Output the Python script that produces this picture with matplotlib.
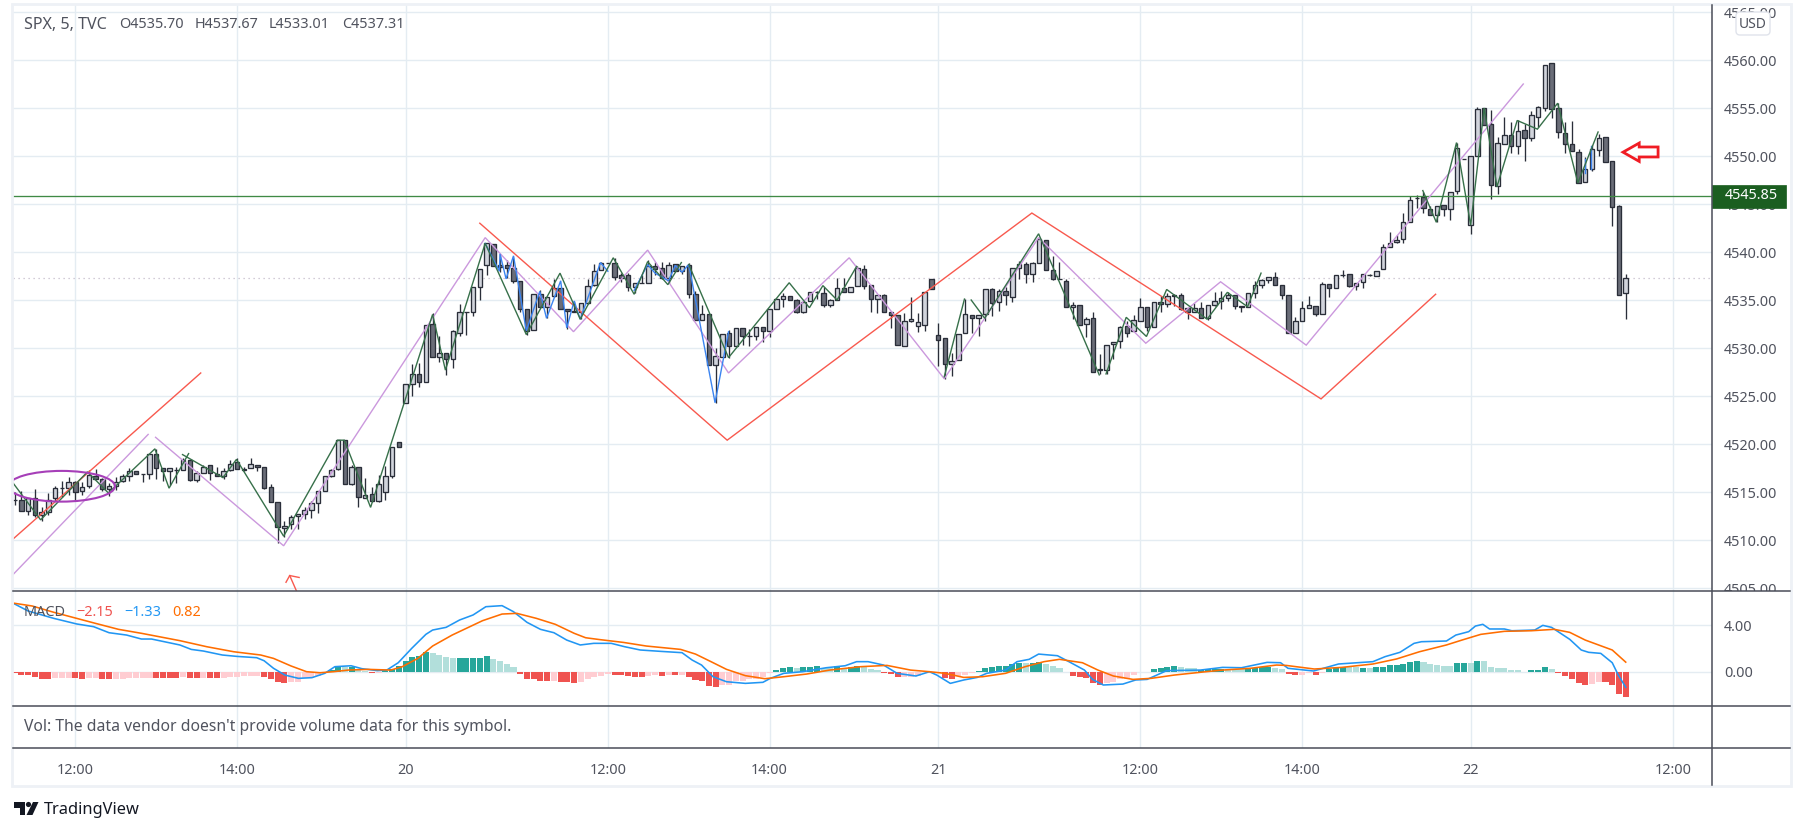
import matplotlib
matplotlib.use("Agg")
import matplotlib.pyplot as plt
from matplotlib.patches import Ellipse, Polygon, Circle, FancyBboxPatch, Rectangle
from matplotlib.transforms import Bbox, blended_transform_factory

plt.rcParams['font.family'] = ['Noto Sans', 'DejaVu Sans']

# ---------------- data ----------------
opens = [
4514.2,4514.2,4513.0,4514.4,4512.6,4512.9,4514.4,4515.4,4515.4,4516.0,
4515.1,4515.6,4516.7,4516.4,4515.3,4515.6,4516.1,4516.7,4517.2,4516.9,
4516.9,4519.0,4517.5,4517.2,4517.3,4517.3,4518.3,4516.3,4517.0,4517.8,
4516.9,4516.7,4517.3,4518.1,4517.4,4517.5,4517.8,4517.6,4515.5,4514.0,
4511.3,4511.7,4512.5,4512.7,4513.1,4513.9,4515.1,4516.7,4517.4,4520.4,
4515.8,4517.6,4514.4,4514.8,4514.1,4515.0,4516.7,4520.2,4524.3,4526.25,
4527.3,4526.5,4532.5,4529.1,4529.5,4528.9,4531.6,4533.7,4533.8,4536.4,
4538.6,4540.8,4538.6,4538.6,4538.3,4537.0,4534.1,4531.9,4535.6,4534.3,
4535.4,4536.3,4534.1,4533.9,4533.8,4534.7,4536.6,4538.1,4538.9,4538.9,
4537.6,4537.6,4536.4,4536.8,4536.8,4538.5,4538.3,4537.3,4538.7,4538.0,
4538.6,4535.6,4532.9,4533.5,4528.2,4529.1,4531.6,4530.2,4532.1,4531.3,
4531.3,4532.2,4531.8,4534.1,4535.1,4535.4,4535.0,4533.7,4534.9,4535.8,
4535.7,4534.5,4535.0,4536.2,4535.8,4536.5,4538.2,4536.6,4535.1,4535.5,
4533.7,4533.4,4530.2,4532.8,4532.3,4532.4,4537.2,4531.4,4531.0,4528.3,
4528.8,4531.6,4533.4,4533.1,4533.5,4536.1,4534.8,4535.9,4535.3,4538.3,
4538.8,4537.7,4538.9,4541.3,4538.1,4537.2,4537.0,4534.3,4534.5,4532.5,
4533.1,4527.8,4527.7,4530.4,4530.7,4532.3,4531.8,4532.8,4534.3,4532.2,
4534.8,4534.6,4535.5,4535.5,4534.2,4533.8,4534.2,4533.1,4534.5,4534.9,
4535.2,4535.5,4534.4,4534.3,4535.7,4536.6,4537.1,4537.4,4536.6,4535.5,
4531.6,4532.8,4534.2,4534.4,4533.5,4536.7,4536.3,4537.6,4537.7,4536.5,
4536.9,4537.6,4537.5,4538.2,4540.5,4541.0,4541.4,4543.1,4545.6,4545.7,
4544.5,4543.9,4544.9,4544.5,4546.4,4549.7,4542.8,4550.0,4555.0,4553.3,
4546.9,4551.2,4552.2,4551.0,4552.7,4551.9,4554.1,4555.0,4559.7,4555.0,
4552.4,4551.3,4550.4,4547.3,4548.6,4550.6,4552.0,4549.5,4544.8,4535.7]
highs = [
4515.0,4515.1,4514.4,4515.3,4513.4,4514.9,4515.6,4516.1,4516.6,4516.1,
4516.0,4517.3,4517.4,4516.5,4515.9,4516.6,4516.9,4517.5,4517.2,4516.9,
4519.0,4519.5,4517.5,4517.5,4517.6,4518.5,4518.3,4517.2,4517.8,4517.8,
4517.6,4517.5,4518.3,4518.5,4517.6,4518.5,4517.8,4517.6,4515.8,4514.0,
4512.0,4512.6,4512.7,4513.4,4514.1,4515.1,4516.7,4517.4,4520.4,4520.4,
4517.8,4517.6,4516.5,4515.5,4516.8,4517.7,4519.7,4520.2,4526.2,4528.3,
4528.4,4532.4,4533.6,4531.2,4529.5,4531.9,4534.6,4533.7,4536.4,4538.2,
4540.9,4540.8,4539.8,4539.2,4539.5,4537.0,4534.1,4535.6,4536.0,4535.3,
4537.2,4536.3,4534.1,4534.9,4534.7,4537.2,4538.8,4539.0,4538.9,4539.4,
4537.8,4537.8,4536.8,4537.6,4539.2,4539.0,4539.0,4539.0,4538.7,4538.5,
4538.9,4535.9,4534.5,4533.5,4530.0,4531.5,4531.9,4532.1,4532.1,4532.0,
4532.2,4532.2,4534.1,4535.2,4535.7,4535.4,4535.1,4534.8,4535.8,4535.9,
4536.4,4535.1,4537.3,4537.3,4536.4,4538.5,4538.6,4536.6,4535.5,4535.6,
4533.7,4533.4,4533.6,4535.3,4533.6,4535.8,4537.2,4532.6,4531.0,4529.5,
4531.5,4535.1,4533.4,4533.4,4536.1,4536.2,4536.1,4536.4,4538.3,4539.1,
4539.0,4539.0,4541.4,4541.3,4539.6,4539.0,4537.2,4534.8,4534.5,4533.2,
4533.8,4529.4,4530.3,4530.6,4532.3,4532.8,4533.4,4535.2,4534.3,4534.8,
4535.4,4535.7,4535.6,4535.7,4534.2,4534.7,4534.8,4534.5,4535.8,4535.9,
4535.8,4535.5,4534.4,4535.7,4537.0,4537.2,4537.4,4537.9,4536.6,4535.5,
4533.2,4534.9,4535.4,4534.4,4536.9,4536.7,4537.6,4538.1,4537.7,4536.8,
4537.7,4537.7,4538.0,4540.8,4542.1,4541.8,4544.1,4545.8,4545.9,4546.3,
4544.8,4544.8,4544.9,4546.2,4551.4,4549.7,4550.0,4555.1,4555.0,4554.8,
4552.0,4554.1,4553.5,4553.7,4553.3,4554.7,4555.2,4559.5,4559.7,4555.5,
4553.5,4553.6,4550.7,4549.9,4551.1,4552.3,4552.0,4549.5,4544.9,4537.67]
lows = [
4513.6,4513.0,4512.6,4512.4,4512.0,4512.6,4514.1,4514.5,4514.7,4514.1,
4514.7,4515.4,4516.4,4515.1,4514.6,4515.2,4516.0,4516.2,4516.9,4516.0,
4516.4,4516.4,4516.2,4515.7,4515.9,4517.3,4516.1,4516.0,4517.0,4516.3,
4516.7,4516.4,4517.2,4517.4,4517.2,4517.5,4517.2,4515.3,4514.0,4509.7,
4510.3,4511.1,4511.2,4512.2,4512.3,4512.8,4515.1,4516.6,4517.3,4515.8,
4515.7,4513.4,4514.4,4514.0,4514.0,4514.2,4516.5,4519.7,4524.3,4525.0,
4525.9,4526.5,4529.1,4528.5,4527.2,4527.9,4531.3,4531.4,4533.3,4535.0,
4537.6,4538.5,4537.9,4537.3,4536.8,4533.8,4531.4,4531.9,4534.3,4533.1,
4535.3,4534.1,4532.0,4533.8,4533.0,4534.6,4536.5,4538.1,4538.9,4537.1,
4536.9,4535.9,4535.7,4536.8,4536.8,4537.6,4537.2,4536.8,4538.0,4537.7,
4535.2,4532.9,4532.9,4528.2,4524.3,4529.1,4529.0,4530.2,4530.3,4530.2,
4530.8,4530.6,4531.1,4534.1,4534.3,4535.0,4533.6,4533.6,4534.9,4535.1,
4534.3,4534.3,4535.0,4535.8,4535.8,4536.5,4536.1,4533.8,4533.6,4533.7,
4532.1,4530.3,4530.2,4532.7,4531.7,4531.8,4536.1,4528.1,4526.8,4527.1,
4528.8,4531.6,4531.6,4531.2,4532.8,4533.3,4533.9,4534.5,4534.8,4537.2,
4536.8,4536.9,4538.9,4538.1,4537.1,4537.2,4534.3,4533.0,4532.4,4531.1,
4527.5,4527.3,4527.3,4528.9,4530.0,4531.1,4531.8,4532.8,4531.8,4532.2,
4533.7,4534.3,4534.4,4534.0,4533.0,4533.7,4533.1,4532.9,4534.4,4534.1,
4534.9,4534.1,4533.8,4534.3,4535.2,4536.2,4536.8,4536.6,4535.1,4531.6,
4531.6,4532.8,4534.2,4533.3,4533.5,4535.3,4536.3,4537.4,4536.4,4536.0,
4536.2,4537.5,4537.5,4538.2,4540.5,4540.9,4540.9,4543.1,4544.6,4544.1,
4543.9,4543.1,4543.7,4543.3,4546.0,4549.7,4541.9,4550.0,4553.2,4545.5,
4546.0,4551.2,4550.3,4550.2,4549.5,4551.6,4553.0,4554.7,4554.0,4551.9,
4550.3,4550.5,4547.2,4547.3,4548.4,4550.0,4549.4,4542.7,4535.5,4533.01]
closes = [
4514.2,4513.0,4514.4,4512.6,4512.9,4514.2,4515.4,4515.4,4516.0,4515.0,
4515.5,4516.8,4516.4,4515.3,4515.6,4516.0,4516.7,4517.2,4516.9,4516.9,
4519.0,4517.5,4517.2,4517.5,4517.3,4518.3,4516.3,4517.0,4517.6,4517.0,
4516.7,4517.2,4517.9,4517.4,4517.3,4517.9,4517.6,4515.4,4514.0,4511.4,
4511.5,4512.4,4512.7,4513.1,4513.9,4515.1,4516.7,4517.3,4520.4,4515.8,
4517.6,4514.5,4514.7,4514.1,4515.8,4516.7,4519.7,4519.7,4526.2,4527.3,
4526.5,4532.4,4529.1,4529.5,4528.9,4531.8,4533.7,4533.7,4536.4,4538.2,
4540.9,4538.5,4538.4,4538.3,4537.0,4534.1,4531.8,4535.6,4534.3,4535.3,
4536.2,4534.1,4533.9,4533.8,4534.7,4536.5,4538.0,4538.9,4538.9,4537.4,
4537.3,4536.4,4536.8,4536.8,4538.5,4538.2,4537.3,4538.6,4538.0,4538.5,
4535.6,4532.9,4533.5,4528.2,4529.2,4531.5,4530.2,4532.1,4531.2,4531.3,
4532.2,4531.8,4534.1,4535.1,4535.4,4535.0,4533.7,4534.8,4535.8,4535.8,
4534.5,4535.0,4536.2,4535.8,4536.4,4538.3,4536.5,4535.1,4535.5,4533.7,
4533.4,4530.3,4532.8,4533.0,4532.7,4535.8,4536.1,4530.8,4528.3,4528.6,
4531.5,4533.5,4533.1,4533.4,4536.1,4534.7,4535.9,4535.5,4538.3,4538.8,
4537.7,4538.9,4541.4,4538.1,4537.2,4537.2,4534.3,4534.5,4532.4,4533.0,
4527.5,4527.7,4530.3,4530.6,4532.2,4531.6,4532.9,4534.3,4532.2,4534.8,
4534.6,4535.4,4535.4,4534.1,4533.7,4534.2,4533.1,4534.5,4534.9,4535.2,
4535.5,4534.4,4534.3,4535.7,4536.6,4537.1,4537.4,4536.6,4535.5,4531.6,
4532.8,4534.2,4534.5,4533.5,4536.7,4536.2,4537.6,4537.6,4536.5,4536.8,
4537.7,4537.6,4538.0,4540.5,4540.9,4541.2,4543.1,4545.4,4545.6,4544.6,
4543.9,4544.8,4544.5,4546.2,4550.8,4549.7,4550.0,4554.9,4553.2,4547.0,
4551.4,4552.2,4551.0,4552.6,4551.9,4554.3,4555.1,4559.5,4554.9,4552.5,
4551.3,4550.5,4547.2,4548.6,4550.7,4551.9,4549.4,4544.7,4535.5,4537.31]

# MACD histogram, one value per bar
hist_values = [
-.09,-.26,-.29,-.46,-.63,-.63,-.54,-.54,-.54,-.57,-.63,-.57,-.54,-.63,-.63,-.62,-.60,-.57,-.54,-.54,
-.52,-.50,-.50,-.50,-.54,-.48,-.54,-.54,-.50,-.54,-.54,-.50,-.46,-.46,-.40,-.40,-.37,-.48,-.63,-.86,
-.94,-.88,-.88,-.57,-.54,-.37,-.14,.14,.48,.37,.43,.14,.06,-.11,-.09,.09,.26,.49,.91,1.26,
1.37,1.69,1.60,1.43,1.26,1.17,1.17,1.17,1.17,1.17,1.34,1.09,.94,.66,.37,-.17,-.66,-.66,-.80,-.80,
-.80,-.88,-.88,-.94,-.86,-.66,-.49,-.34,-.20,-.29,-.29,-.37,-.46,-.46,-.37,-.29,-.37,-.29,-.29,-.26,
-.46,-.71,-.80,-1.23,-1.31,-1.14,-1.14,-.80,-.80,-.63,-.63,-.46,-.11,.14,.31,.40,.31,.40,.40,.49,
.31,.31,.49,.31,.40,.49,.46,.23,.14,-.11,-.20,-.46,-.46,-.46,-.37,-.06,-.06,-.10,-.54,-.63,
-.37,-.26,-.09,.06,.31,.40,.49,.49,.66,.74,.74,.74,.83,.66,.49,.31,-.06,-.37,-.46,-.54,
-.97,-1.14,-.97,-.88,-.60,-.60,-.31,-.03,-.03,.23,.31,.40,.49,.40,.31,.31,.14,.20,.20,.20,
.20,.20,.20,.31,.31,.37,.40,.31,.23,-.20,-.29,-.29,-.14,-.29,-.09,.23,.31,.37,.37,.37,
.31,.31,.37,.43,.57,.57,.69,.83,.91,.83,.66,.57,.49,.49,.74,.74,.74,.91,.91,.37,
.31,.31,.14,.14,-.03,.14,.14,.40,.23,-.11,-.37,-.63,-.97,-1.14,-1.06,-.89,-.89,-1.14,-1.91,-2.15]
# 1 = saturated bar, 0 = pale bar
hist_strong = [
1,1,1,1,1,1,0,0,0,1,1,0,0,1,1,0,0,0,0,0,
0,1,1,1,1,0,1,1,0,1,1,0,0,0,0,0,0,1,1,1,
1,0,0,0,0,0,0,1,1,0,1,0,0,1,0,1,1,1,1,1,
1,1,0,0,0,0,1,1,1,1,1,0,0,0,0,1,1,1,1,1,
0,1,1,1,0,0,0,0,0,1,1,1,1,1,0,0,1,0,1,0,
1,1,1,1,1,0,0,0,0,0,0,0,0,1,1,1,0,1,1,1,
0,0,1,0,1,1,0,0,0,1,1,1,0,0,0,0,0,1,1,1,
0,0,0,1,1,1,1,1,1,1,0,1,1,0,0,0,1,1,1,1,
1,1,0,0,0,0,0,0,0,1,1,1,1,0,0,0,1,1,1,1,
0,0,0,1,1,1,1,0,0,1,1,0,0,1,0,1,1,1,0,0,
1,0,1,1,1,1,1,1,1,0,0,0,0,0,1,1,0,1,0,0,
0,0,0,0,1,1,1,1,0,1,1,1,1,1,0,0,1,1,1,1]

macd_x = [0,2,5.8,9.2,11.7,14,16.6,18.8,20.3,24.5,26.2,28,30.8,33,35.9,37,38.4,40.1,42.1,44.1,46,47.5,49.9,51.5,53.8,55.2,56.9,58.9,61,62,64,66,68,69.9,72.3,74,76,78,80,81.9,83.9,85.9,88.5,90.5,92.8,95.9,99,100.5,101.9,103.6,105.6,108.4,111,112.1,114.1,116.9,120.4,123.2,124.9,126.6,128.9,130.9,133.7,135.7,136.8,138.8,140.8,142.8,144.2,147,148.7,150.5,151.9,154.7,156.4,158.7,159.9,161.5,164.4,166.3,168,170.9,175.9,179.2,182,185.8,187.8,188.9,192.7,196.4,201.5,203.3,205.5,207.6,208.7,212.4,213.8,215.7,216.7,217.8,218.8,221,222.1,225.5,226.7,228,230.7,232.4,233.5,235.3,237,237.9,239]
macd_y = [5.8,5.2,4.57,4.09,3.86,3.34,3.14,2.8,2.8,2.29,1.91,1.77,1.43,1.31,1.2,.94,.29,-.29,-.57,-.51,-.14,.43,.51,.26,.09,.14,.77,2,3.2,3.57,3.8,4.43,4.86,5.57,5.66,5.14,4.23,3.63,3.34,2.71,2.29,2.43,2.43,2.14,1.86,1.74,1.63,1,.57,-.43,-.86,-1,-.91,-.57,-.14,0,.34,.51,.86,.86,.57,-.14,-.37,0,-.29,-1,-.71,-.49,-.14,.14,.86,1.06,1.51,1.37,.86,.14,-.66,-1.14,-1.06,-.71,-.66,.09,.14,.37,.34,.8,.77,.29,.06,.66,.86,1.29,1.66,2.43,2.57,2.63,3.14,3.43,3.91,4.06,3.66,3.66,3.51,3.57,3.97,3.8,2.77,1.86,1.66,1.57,.77,-.29,-1.33]
signal_x = [0,2.6,5.8,9.2,12,15.4,18.8,24.5,28.5,32.5,36.5,38.4,41,43.3,45.3,47.3,49.5,52.4,55.8,57.5,59.8,62,64.9,69.4,72.3,74.5,77.4,80.2,83,84.7,86.8,90.3,93.7,98.8,101,103.3,105.6,108.4,111.3,114.1,117.5,120.9,125.5,129.4,132.9,135.7,138,140.8,143.6,147,149.9,152.7,155,158.4,160.7,163,165.9,168.6,172,175.9,179.2,183.3,187.2,188.6,192.8,196.9,201.5,205,208.4,212.4,214.7,217.5,221,225,228.4,230.7,233,237,239]
signal_y = [5.86,5.63,5.09,4.57,4.14,3.63,3.29,2.66,2.14,1.71,1.43,1.14,.49,0,-.09,0,.14,.2,.14,.43,1.14,2.2,3.14,4.37,4.94,5,4.57,4.06,3.29,2.91,2.75,2.51,2.2,1.91,1.51,.86,.2,-.34,-.6,-.43,-.2,.14,.43,.54,.14,0,-.14,-.49,-.43,-.14,.43,.86,1.06,.77,.14,-.37,-.66,-.57,-.29,-.05,.14,.29,.57,.54,.23,.37,.66,1.09,1.71,2.29,2.71,3.2,3.46,3.51,3.63,3.37,2.71,1.86,.82]

# drawn overlays: (bar position, price) vertices
red_lines = [
    [(-0.25,4510.1),(27.6,4527.4)],
    [(69,4543.0),(105.7,4520.4),(150.9,4544.06),(193.8,4524.7),(210.8,4535.6)],
]
purple_lines = [
    [(-0.25,4506.4),(19.8,4521.0)],
    [(20.9,4520.7),(39.9,4509.4),(69.8,4541.5),(82.9,4531.7),(93.9,4540.2),(105.9,4527.4),
     (123.8,4539.4),(137.9,4526.8),(151.9,4541.5),(167.8,4530.5),(178.9,4536.9),(191.6,4530.3),(223.8,4557.5)],
]
green_lines = [
    [(-0.2,4515.9),(3.85,4512.1),(10.8,4517.1),(13.9,4514.9),(20.8,4519.5),(22.9,4515.4),(25.8,4519.0)],
    [(24.9,4518.9),(30.9,4516.5),(32.9,4518.4),(39.9,4510.4),(47.9,4520.4),(48.9,4520.4),(52.8,4513.4),
     (62,4533.5),(63.9,4527.7),(69.8,4540.9),(75.9,4531.4),(80.9,4537.8),(83.9,4533.0),(88.8,4539.4),
     (91.9,4535.6),(93.9,4539.0),(96.9,4536.6),(98.9,4538.9)],
    [(100,4538.7),(105.9,4529.0),(114.9,4536.8),(117.9,4534.2),(119.9,4536.5),(122,4535.0),(124.9,4538.5)],
    [(137.9,4527.0),(140.9,4535.1)],
    [(141.9,4535.0),(143.9,4533.1),(151.9,4541.9),(160.9,4527.2)],
    [(161.9,4527.3),(164.9,4533.2),(167.9,4531.2),(170.9,4536.1),(176.9,4533.0),(179.9,4535.8),(182.9,4534.3),(184.9,4537.8)],
    [(208.9,4546.4),(210.9,4543.1),(213.9,4551.4),(216,4542.8),(218,4555.0),(219.9,4546.8),(222.9,4553.7),
     (225.9,4552.8),(228.9,4555.5),(231.9,4547.2),(234.9,4552.5)],
]
blue_lines = [
    [(69.8,4540.9),(71.9,4538.0),(72,4539.8),(72.9,4537.2),(74,4539.6),(75.9,4531.8),(77.9,4535.9),(78.9,4533.1),
     (81,4537.0),(81.9,4532.1),(83,4534.9),(83.9,4533.0),(86.9,4538.9),(88,4538.0)],
    [(91.9,4536.0),(93.9,4538.7),(95,4537.8),(97,4537.0),(98,4538.6),(99,4537.9),(100,4538.7),(103.9,4524.3),(105.9,4531.7)],
    [(232.9,4548.2),(232.9,4549.7)],
    [(233.9,4548.6),(233.9,4551.0)],
]
big_arrow = [(238.6,4550.4),(241,4551.35),(241,4550.94),(243.8,4550.94),(243.8,4549.9),(241,4549.9),(241,4549.44)]
small_arrow = [(40.25,4505.6),(40.8,4506.3),(42.2,4506.1)]
small_arrow_stem = [(40.8,4506.3),(41.8,4504.7)]

last_close_level = 4537.31
hline_level = 4545.85

price_ticks = [4505,4510,4515,4520,4525,4530,4535,4540,4545,4550,4555,4560,4565]
time_ticks = [9,33,58,88,112,137,167,191,216,246]
time_labels = ['12:00','14:00','20','12:00','14:00','21','12:00','14:00','22','12:00']
bold_labels = {'20','21','22'}

# ---------------- figure ----------------
W, H = 1804, 832
fig = plt.figure(figsize=(W/100, H/100), dpi=100, facecolor='white')

def px_axes(x0, y0, x1, y1, **kw):
    return fig.add_axes([x0/W, (H-y1)/H, (x1-x0)/W, (y1-y0)/H], **kw)

PANE_L, PANE_R = 13, 1712
GRID = '#e4ecf2'
TXT = '#50535e'
FS = 10.4
XLIM = (-0.25, 251.8)

ax = px_axes(PANE_L, 5, PANE_R, 591)
ax_m = px_axes(PANE_L, 591, PANE_R, 706)
ax_v = px_axes(PANE_L, 706, PANE_R, 748)
ax_t = px_axes(PANE_L, 748, PANE_R, 785)

for a in (ax, ax_m, ax_v, ax_t):
    a.set_xlim(*XLIM)
    for s in a.spines.values():
        s.set_visible(False)
    a.set_xticks(time_ticks)
    a.tick_params(length=0, labelbottom=False)
    a.set_axisbelow(True)
    a.yaxis.tick_right()

# main pane
ax.set_ylim(4504.69, 4565.73)
ax.set_yticks(price_ticks)
ax.set_yticklabels([f'{p:.2f}' for p in price_ticks], color=TXT, fontsize=FS)
ax.tick_params(axis='y', pad=8.6)
ax.grid(True, color=GRID, lw=1.0)
clip = Bbox([[PANE_R, H-591], [1790, H-5]])
for lab in ax.get_yticklabels():
    lab.set_clip_on(True)
    lab.set_clip_box(clip)

idx = list(range(len(opens)))
UP, DOWN, EDGE = '#d1d4dc', '#6a6d78', '#2a2e39'
ax.vlines(idx, lows, highs, color=EDGE, lw=0.95, zorder=3)
ax.bar(idx, [c-o for o, c in zip(opens, closes)], bottom=opens, width=0.66,
       color=[UP if c >= o else DOWN for o, c in zip(opens, closes)],
       edgecolor=EDGE, linewidth=0.95, zorder=4)

ax.axhline(last_close_level, color='#c4bccb', lw=0.9, ls=(0, (1, 3)), zorder=2)
ax.axhline(hline_level, color='#3f8a45', lw=0.95, zorder=5)

def draw(groups, color, lw):
    for seg in groups:
        ax.plot([p[0] for p in seg], [p[1] for p in seg], color=color, lw=lw, zorder=6,
                solid_joinstyle='miter')

draw(purple_lines, '#cb98dd', 1.0)
draw(red_lines, '#f8594e', 1.0)
draw(blue_lines, '#3b84f0', 1.0)
draw(green_lines, '#37704a', 1.0)

ax.add_patch(Ellipse((6.97, 4515.6), 15.8, 3.2, fill=False, ec='#a63fb8', lw=1.5, zorder=7))
ax.add_patch(Polygon(big_arrow, closed=True, fill=False, ec='#f01c24', lw=2.0, zorder=7))
ax.plot([p[0] for p in small_arrow], [p[1] for p in small_arrow], color='#f8594e', lw=1.0, zorder=7)
ax.plot([p[0] for p in small_arrow_stem], [p[1] for p in small_arrow_stem], color='#f8594e', lw=1.0, zorder=7)

# last-price box on the axis
tr = blended_transform_factory(ax.transAxes, ax.transData)
ax.add_patch(FancyBboxPatch((1.0, hline_level-1.25), 0.0435, 2.38, transform=tr,
             boxstyle='square,pad=0', fc='#1b5e20', ec='#1b5e20', lw=0.5, clip_on=False, zorder=10))
ax.text(1.0+41/(PANE_R-PANE_L)*0.97, hline_level, f'{hline_level:.2f}', transform=tr, color='white',
        fontsize=FS, ha='center', va='center', clip_on=False, zorder=11)

# MACD pane
ax_m.set_ylim((671.7-706)/11.67, (671.7-591)/11.67)
ax_m.set_yticks([0, 4])
ax_m.set_yticklabels(['0.00', '4.00'], color=TXT, fontsize=FS)
ax_m.tick_params(axis='y', pad=8.6)
ax_m.grid(True, color=GRID, lw=1.0)
def hist_color(v, s):
    if v >= 0:
        return '#26a69a' if s else '#b2dfdb'
    return '#ef5350' if s else '#ffcdd2'
ax_m.bar(idx, hist_values, width=0.9, color=[hist_color(v, s) for v, s in zip(hist_values, hist_strong)], zorder=2)
ax_m.plot(macd_x, macd_y, color='#2196f3', lw=1.15, zorder=3)
ax_m.plot(signal_x, signal_y, color='#ff6d00', lw=1.15, zorder=4)

# volume pane
ax_v.set_ylim(0, 1)
ax_v.set_yticks([])
ax_v.grid(True, axis='x', color=GRID, lw=1.0)

# time axis
ax_t.set_ylim(0, 1)
ax_t.set_yticks([])
ax_t.tick_params(labelbottom=True, pad=-16)
ax_t.set_xticklabels(time_labels, color=TXT, fontsize=FS)
for lab, t in zip(ax_t.get_xticklabels(), time_labels):
    if t in bold_labels:
        lab.set_fontweight('bold')

# overlay: frame, separators, legends, logo
ov = fig.add_axes([0, 0, 1, 1], facecolor='none')
ov.set_xlim(0, W); ov.set_ylim(H, 0); ov.axis('off')
ov.add_patch(Rectangle((12, 4), 1779, 782, fill=False, ec='#eef1f6', lw=2))
SEP = '#4a4d58'
for y in (591, 706, 748):
    ov.plot([PANE_L, 1790], [y, y], color=SEP, lw=1.1)
ov.plot([PANE_R, PANE_R], [5, 785], color=SEP, lw=1.1)
ov.add_patch(FancyBboxPatch((1737, 13), 32, 21, boxstyle='round,pad=1,rounding_size=4',
                            fc='white', ec='#e0e3eb', lw=1))
ov.text(1753, 24, 'USD', color=TXT, fontsize=FS-0.4, ha='center', va='center')

def label(x, y, s, c=TXT, **kw):
    ov.text(x, y, s, color=c, fontsize=kw.pop('fontsize', FS), ha='left', va='center', **kw)

label(24, 25, 'SPX, 5, TVC', fontsize=11.6)
label(119, 25, 'O4535.70')
label(195, 25, 'H4537.67')
label(269, 25, 'L4533.01')
label(342, 25, 'C4537.31')
label(24, 613, 'MACD')
label(76.5, 613, '\u22122.15', '#ef5350')
label(124, 613, '\u22121.33', '#2196f3')
label(172, 613, '0.82', '#ff6d00')
label(24, 727, "Vol: The data vendor doesn't provide volume data for this symbol.", fontsize=11.3)

LOGO = '#131722'
ov.add_patch(Polygon([(14,802),(25,802),(25,815),(19.5,815),(19.5,807.5),(14,807.5)], closed=True, fc=LOGO, ec='none'))
ov.add_patch(Circle((28.5,804.5), 2.6, fc=LOGO, ec='none'))
ov.add_patch(Polygon([(33,802),(38.5,802),(32.5,815),(26.5,815)], closed=True, fc=LOGO, ec='none'))
label(44, 809.5, 'TradingView', LOGO, fontsize=11.8, fontweight='medium')

fig.savefig('out.png', dpi=100, facecolor='white')
